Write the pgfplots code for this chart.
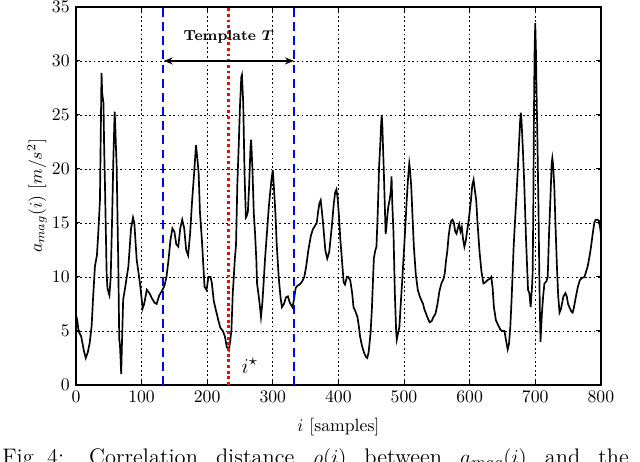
\documentclass[border=0pt]{standalone}
\usepackage{pgfplots}
\pgfplotsset{compat=1.18}
\usetikzlibrary{arrows.meta}
\usepackage{amsmath}
\begin{document}
\begin{tikzpicture}
\begin{axis}[
  at={(0,0)}, anchor=south west,
  scale only axis, width=296.6pt, height=213.6pt,
  xmin=0, xmax=800, ymin=0, ymax=35,
  xtick={0,100,...,800}, ytick={0,5,...,35},
  grid=major,
  major grid style={black, line width=0.4pt, dash pattern=on 1pt off 1.5pt},
  tick align=inside, major tick length=2.5pt,
  tick style={black, line width=0.5pt},
  axis line style={black, line width=0.75pt},
  xlabel={$i$ [samples]}, ylabel={$a_{mag}(i)$ [$m/s^2$]},
  xlabel style={yshift=-2pt},
  ylabel style={yshift=-4pt},
  clip=false,
]
\addplot[black, line width=0.95pt] table {
0 6.5
2 6.0
4 5.0
8 4.5
12 3.2
15 2.5
18 3.0
21 3.9
24 5.5
26 7.9
29 11.0
32 12.0
34 14.0
36.6 17.1
38 24
39 28.9
40 27
42 26.1
43 22
44.3 18.4
46.8 10.3
48 9.0
50 8.5
51 8.3
53 10
55 15
57 20.8
59 25.3
60 24
61 22
62 20.5
64.6 11
66 4.2
67 3.8
68 2.5
69 1.0
70 3.5
72 7.9
75 9.0
80 11.0
84 14.5
87 15.5
89 15.0
92.6 11.6
97.6 9.4
101.7 7.1
104 7.5
108 8.8
112 8.5
116 8.0
120 7.6
123 7.5
127 8.3
131 8.7
135 9.2
138 10
141 11.5
144 13.4
147 14.5
150 14.2
153 13.0
156 12.8
159 14.5
162 15.3
165 14.5
168 12.5
171 12.0
174 14.0
177 17.0
180 19.5
183 22.2
185 21.0
187 19.6
189 16.0
192 13.4
196 9.1
199 8.8
202 10.0
205 10.0
207 9.5
210 7.8
213 7.0
217 6.0
220 5.3
224 5.0
227 4.5
230 3.5
233 3.2
235 4.0
237 5.1
239 8.5
240 9.4
242 11.5
244 13
246 18.6
248 22
250 25.8
252 28.5
253 28.7
255 26
257 19.5
259 15.5
260 15.6
262 16.0
264 18.5
266 22
267 22.7
269 20.0
271 16
273 14
275 11.5
276 9.4
278 8.5
280 7.5
282 6.3
284 7.5
286 9.4
288 11.5
291 14
294 16.5
296 17.8
298 19
300 19.9
302 18
304 15.9
306 13
309 10
312 8
314 7.2
317 7.5
320 8.1
323 8.2
326 7.6
330 7.2
332 7.8
335 9.0
338 9.2
341 9.3
345 9.6
348 10
351 11
354 12.4
358 13.8
361 14.4
364 14.7
367 15.0
369 16
371 16.8
373 17.1
375 16
377 14.7
380 12.5
383 11.7
386 12.3
388 13.5
390 14.7
393 16.8
395 17.8
397 18.1
399 17.2
401 15.5
403 13.4
405 11.9
408 9.5
410 9.3
413 10.0
415 10
418 9.7
421 8.5
423 7.2
426 6.8
429 6.3
431 5.5
433 4.5
436 3.6
439 3.0
442 2.6
444 2.5
446 3.0
449 4.8
451 7
454 11.7
456 12.4
458 12.8
460 16
462 20.2
464 22.5
465 24
466 25.0
467 24.0
468 22
469 20.2
471 16
472 14
473 14.5
474 15.3
476 16.5
478 17.1
480 18
481 19.3
482 17
484 14
486 8.5
488 5
489 4.2
491 4.8
493 5.4
495 7.5
497 9.4
500 12.5
502 14.7
504 17
506 19
508 20.5
509 20
511 18.4
513 15.5
515 12.8
518 10.2
521 8.8
524 8.2
526 7.9
529 7.5
531 7.0
533 6.7
536 6.2
539 5.8
542 5.9
545 6.3
548 6.6
551 7.5
554 8.7
557 9.4
560 9.8
562 10.3
564 11.5
566 12.4
568 13.8
570 14.7
572 15.2
574 15.3
576 15
578 14.2
580 14.0
582 14.5
584 14.9
586 14.2
588 14.6
590 13.5
592 12.8
594 13.3
596 14.2
598 15
600 16
602 17.1
604 18.5
606 19.0
608 18
610 17.1
612 15
615 12.4
618 10.5
621 9.4
624 9.5
627 9.7
630 9.8
633 10
635 9
637 7.2
640 6.0
643 5.6
647 5.1
650 5.0
653 5.0
655 4.3
658 3.3
660 3.8
662 5.4
664 8
667 12.7
669 15
671 17.1
673 19.5
675 22
677 24.5
678 25.2
679 24.5
681 22
683 19
685 15.3
686 13.4
688 10.3
689 8.8
691 8.5
693 7.2
695 9
696 10.3
697 16
698 25
699 31
700 33.5
701 31
702 27
703 23.8
705 16
706 11
707 7
708 4.0
710 6.5
712 8.2
714 9.4
717 9.6
719 10
721 14
723 17.1
725 20.5
726 21.0
727 20.5
729 18.4
731 14.5
733 11
735 8.2
737 6.7
739 7.0
741 7.6
743 8.2
746 8.5
748 8.2
750 7.5
752 7.2
755 6.8
757 6.7
759 7.2
762 8.2
765 9.1
768 9.7
771 9.9
775 10
778 10.6
780 11
783 12.0
785 12.8
788 14.2
790 15
792 15.3
795 15.3
797 15.2
799 14.5
800 14
};
\addplot[blue, line width=1.1pt, dash pattern=on 5pt off 3pt] coordinates {(133,0) (133,35)};
\addplot[blue, line width=1.1pt, dash pattern=on 5pt off 3pt] coordinates {(333,0) (333,35)};
\addplot[red, line width=1.6pt, dash pattern=on 1.6pt off 1.6pt] coordinates {(233,0) (233,35)};
\draw[black, line width=0.9pt, {Stealth[length=5pt,width=4pt]}-{Stealth[length=5pt,width=4pt]}] (axis cs:134,30) -- (axis cs:332,30);
\node[font=\fontsize{8.2}{10}\selectfont\bfseries, inner sep=0pt] at (axis cs:233,32.2) {Template $\boldsymbol{T}$};
\node[font=\fontsize{13}{15}\selectfont, inner sep=0pt] at (axis cs:265,1.8) {$i^{\star}$};
\end{axis}
\node[anchor=base west, inner sep=0pt, font=\fontsize{12.7}{15}\selectfont] at (-41.8pt,-44.9pt) {\makebox[354pt][s]{\mbox{Fig.~4:}\hspace{14pt}Correlation distance $\rho(i)$ between $a_{mag}(i)$ and the}};
\pgfresetboundingbox
\useasboundingbox (-42.9pt,-43.5pt) rectangle (318.7pt,217.5pt);
\end{tikzpicture}
\end{document}
